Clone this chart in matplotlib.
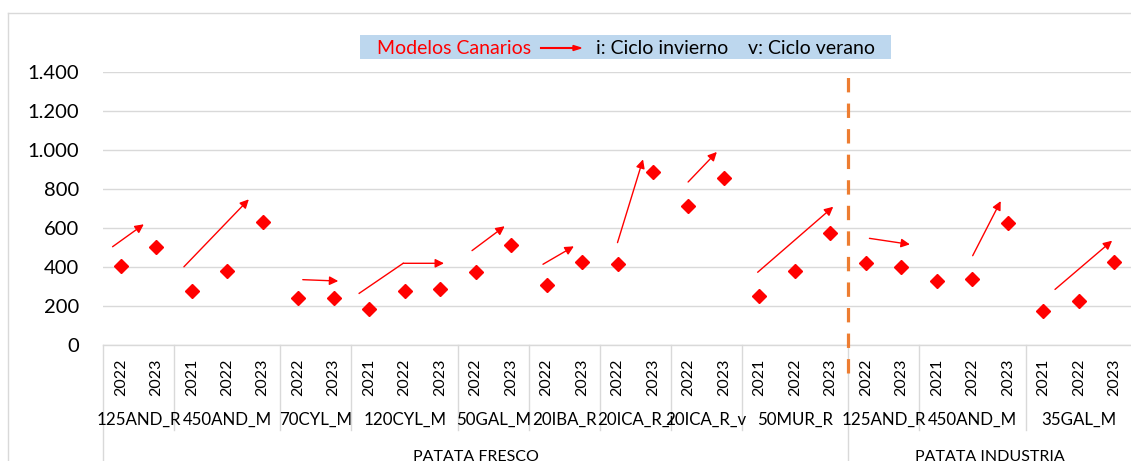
import matplotlib.pyplot as plt
from matplotlib.patches import Rectangle
from matplotlib.ticker import FuncFormatter
import matplotlib.transforms as mtransforms

plt.rcParams['font.family'] = ['Lato', 'DejaVu Sans']

# grupos (modelo) y años de cada categoría
groups = ['125AND_R', '450AND_M', '70CYL_M', '120CYL_M', '50GAL_M', '20IBA_R',
          '20ICA_R_i', '20ICA_R_v', '50MUR_R', '125AND_R', '450AND_M', '35GAL_M']
group_years = [['2022', '2023'], ['2021', '2022', '2023'], ['2022', '2023'],
               ['2021', '2022', '2023'], ['2022', '2023'], ['2022', '2023'],
               ['2022', '2023'], ['2022', '2023'], ['2021', '2022', '2023'],
               ['2022', '2023'], ['2021', '2022', '2023'], ['2021', '2022', '2023']]
sectors = ['PATATA FRESCO', 'PATATA INDUSTRIA']
sector_groups = [9, 3]

values = [405, 504, 279, 379, 632, 241, 239, 185, 279, 286, 374, 514, 308, 424,
          415, 887, 713, 858, 253, 379, 576, 419, 402, 328, 338, 627, 174, 226, 427]

# flechas de tendencia (posición de categoría, valor)
arrow_start = [(-0.23, 504), (1.78, 401), (5.13, 335), (7.96, 419), (9.90, 484),
               (11.90, 414), (14.0, 525), (15.99, 836), (17.95, 373), (21.10, 547),
               (24.01, 458), (26.33, 285)]
arrow_end = [(0.65, 619), (3.61, 747), (6.13, 328), (9.11, 419), (10.82, 609),
             (12.77, 506), (14.72, 952), (16.80, 990), (20.08, 709), (22.24, 516),
             (24.80, 738), (27.94, 535)]
# tramo inicial de la flecha quebrada de 120CYL_M
bent_start = (6.72, 265)
bent_mid = (7.96, 419)

years = [y for g in group_years for y in g]
x = list(range(len(years)))

fig = plt.figure(figsize=(11.31, 4.61), dpi=100)
W, H = 1131, 461
ax = fig.add_axes([103 / W, 1 - 345 / H, 1029 / W, 273 / H])

ax.plot(x, values, linestyle='none', marker='D', color='#FF0000', markersize=7, zorder=4)

for (x0, y0), (x1, y1) in zip(arrow_start, arrow_end):
    ax.annotate('', xy=(x1, y1), xytext=(x0, y0),
                arrowprops=dict(arrowstyle='-|>', color='#FF0000', lw=1,
                                mutation_scale=13, shrinkA=0, shrinkB=0))
ax.plot([bent_start[0], bent_mid[0]], [bent_start[1], bent_mid[1]], color='#FF0000', lw=1)

ax.set_xlim(-0.5, len(years) - 0.5)
ax.set_ylim(0, 1400)
ax.set_yticks(range(0, 1401, 200))
ax.yaxis.set_major_formatter(FuncFormatter(lambda v, p: f'{int(v):,}'.replace(',', '.')))
ax.tick_params(axis='y', length=0, pad=17, labelsize=14.5)
ax.grid(axis='y', color='#D9D9D9', lw=1)
ax.set_axisbelow(True)
for s in ax.spines.values():
    s.set_visible(False)

ax.set_xticks(x)
ax.set_xticklabels(years, rotation=90, fontsize=11.5)
ax.tick_params(axis='x', length=0, pad=10)

trans = mtransforms.blended_transform_factory(ax.transData, ax.transAxes)
ax.plot([-0.5, len(years) - 0.5], [0, 0], transform=trans, color='#D9D9D9', lw=1, clip_on=False)

# separadores y etiquetas de grupo
pos = 0
gpos = []
for g, ys in zip(groups, group_years):
    n = len(ys)
    ax.text(pos - 0.5 + n / 2, -0.275, g, transform=trans, ha='center', va='center',
            fontsize=12.2)
    gpos.append(pos - 0.5)
    pos += n
gpos.append(pos - 0.5)

outer = [gpos[0]]
k = 0
for n in sector_groups:
    k += n
    outer.append(gpos[k])

for b in gpos:
    low = -0.45 if b in outer else -0.311
    ax.plot([b, b], [0, low], transform=trans, color='#D9D9D9', lw=1, clip_on=False)

k = 0
for s, n in zip(sectors, sector_groups):
    c = (gpos[k] + gpos[k + n]) / 2
    ax.text(c, -0.41, s, transform=trans, ha='center', va='center', fontsize=11.5)
    k += n

# línea divisoria entre sectores
ax.plot([gpos[sector_groups[0]]] * 2, [-0.103, 1.0], transform=trans, color='#ED7D31',
        lw=2.3, linestyle=(0, (4.5, 3.5)), clip_on=False, zorder=5)

# borde del gráfico
fig.add_artist(plt.Line2D([8 / W, 8 / W], [0, 1 - 13 / H], color='#D9D9D9', lw=1))
fig.add_artist(plt.Line2D([8 / W, 1], [1 - 13 / H] * 2, color='#D9D9D9', lw=1))

# recuadro de leyenda
fig.add_artist(Rectangle((360 / W, 1 - 59 / H), 531 / W, 24 / H, facecolor='#BDD7EE',
                         edgecolor='none', transform=fig.transFigure))
fig.text(377 / W, 1 - 48 / H, 'Modelos Canarios', color='#FF0000', fontsize=14, va='center')
fig.add_artist(plt.Line2D([541 / W, 574 / W], [1 - 48 / H] * 2, color='#FF0000', lw=1.5))
fig.patches.append(plt.Polygon([[573 / W, 1 - 45.5 / H], [581 / W, 1 - 48 / H], [573 / W, 1 - 50.5 / H]],
                               closed=True, color='#FF0000', transform=fig.transFigure))
fig.text(596 / W, 1 - 48 / H, 'i: Ciclo invierno', color='black', fontsize=14, va='center')
fig.text(748 / W, 1 - 48 / H, 'v: Ciclo verano', color='black', fontsize=14, va='center')

fig.savefig('out.png', dpi=100)
